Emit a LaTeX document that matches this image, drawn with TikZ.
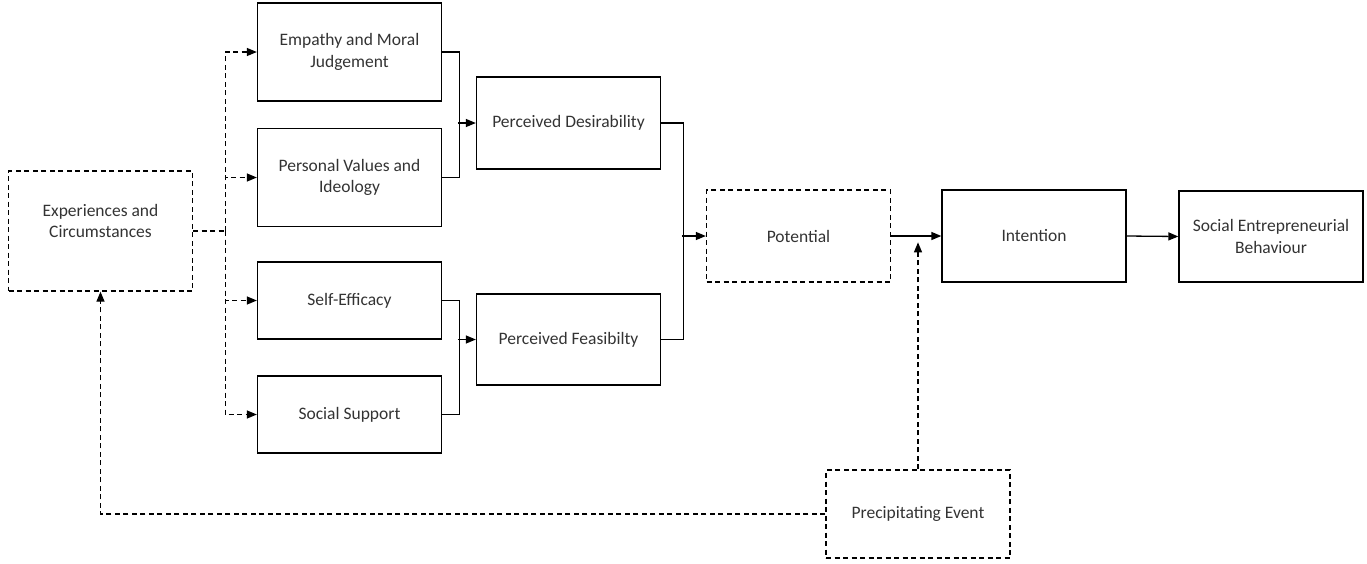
\documentclass[tikz,border=0pt]{standalone}
\usepackage{fontspec}
\setmainfont{Carlito}
\usetikzlibrary{arrows.meta}
\begin{document}
\begin{tikzpicture}[x=1pt,y=-1pt,
    box/.style={draw,line width=1.3pt,inner sep=0pt,minimum width=184pt,align=center,text=black!80,font=\fontsize{17.5}{21.5}\selectfont},
    dbox/.style={box,dash pattern=on 5pt off 3.5pt},
    sline/.style={line width=1.3pt},
    dline/.style={line width=1.3pt,dash pattern=on 5pt off 3.5pt},
    arr/.style={-{Triangle[length=10pt,width=8pt]}}]
    \useasboundingbox (0,0) rectangle (1367,563);
    % boxes
    \node[dbox,minimum height=120pt,label={[align=center,text=black!80,font=\fontsize{17.5}{21.5}\selectfont,yshift=10pt]center:Experiences and\\Circumstances}] (exp) at (100.5,231) {};
    \node[box,minimum height=98pt] (emp) at (349.5,52) {Empathy and Moral\\Judgement};
    \node[box,minimum height=98pt] (val) at (349.5,177.5) {Personal Values and\\Ideology};
    \node[box,minimum height=77pt] (eff) at (349.5,300.5) {Self-Efficacy};
    \node[box,minimum height=77pt] (sup) at (349.5,414.5) {Social Support};
    \node[box,minimum height=92pt] (des) at (568.5,123) {Perceived Desirability};
    \node[box,minimum height=91pt] (fea) at (568.5,339.5) {Perceived Feasibilty};
    \node[dbox,minimum height=92pt] (pot) at (798.5,236) {Potential};
    \node[box,minimum height=92pt] (int) at (1034,236) {Intention};
    \node[box,minimum height=91pt] (seb) at (1271,236.5) {Social Entrepreneurial\\Behaviour};
    \node[dbox,minimum height=88pt] (pre) at (918,514) {Precipitating Event};
    % dashed links out of experiences
    \draw[dline] (exp.east) -- ++(32,0) coordinate (split);
    \draw[dline,arr] (split) |- (emp.west);
    \draw[dline,arr] (split) |- (val.west);
    \draw[dline,arr] (split) |- (eff.west);
    \draw[dline,arr] (split) |- (sup.west);
    % desirability and feasibility
    \draw[sline] (emp.east) -- ++(17,0) |- (val.east);
    \draw[sline,arr] (des.west) ++(-18,0) -- (des.west);
    \draw[sline] (eff.east) -- ++(17,0) |- (sup.east);
    \draw[sline,arr] (fea.west) ++(-18,0) -- (fea.west);
    % potential
    \draw[sline] (des.east) -- ++(22,0) |- (fea.east);
    \draw[sline,arr] (pot.west) ++(-24,0) -- (pot.west);
    \draw[sline,arr] (pot.east) -- (int.west);
    \draw[sline,arr] (int.east) -- (seb.west);
    % precipitating event
    \draw[dline,arr] (pre.north) -- ++(0,-227);
    \draw[dline,arr] (pre.west) -| (exp.south);
\end{tikzpicture}
\end{document}
